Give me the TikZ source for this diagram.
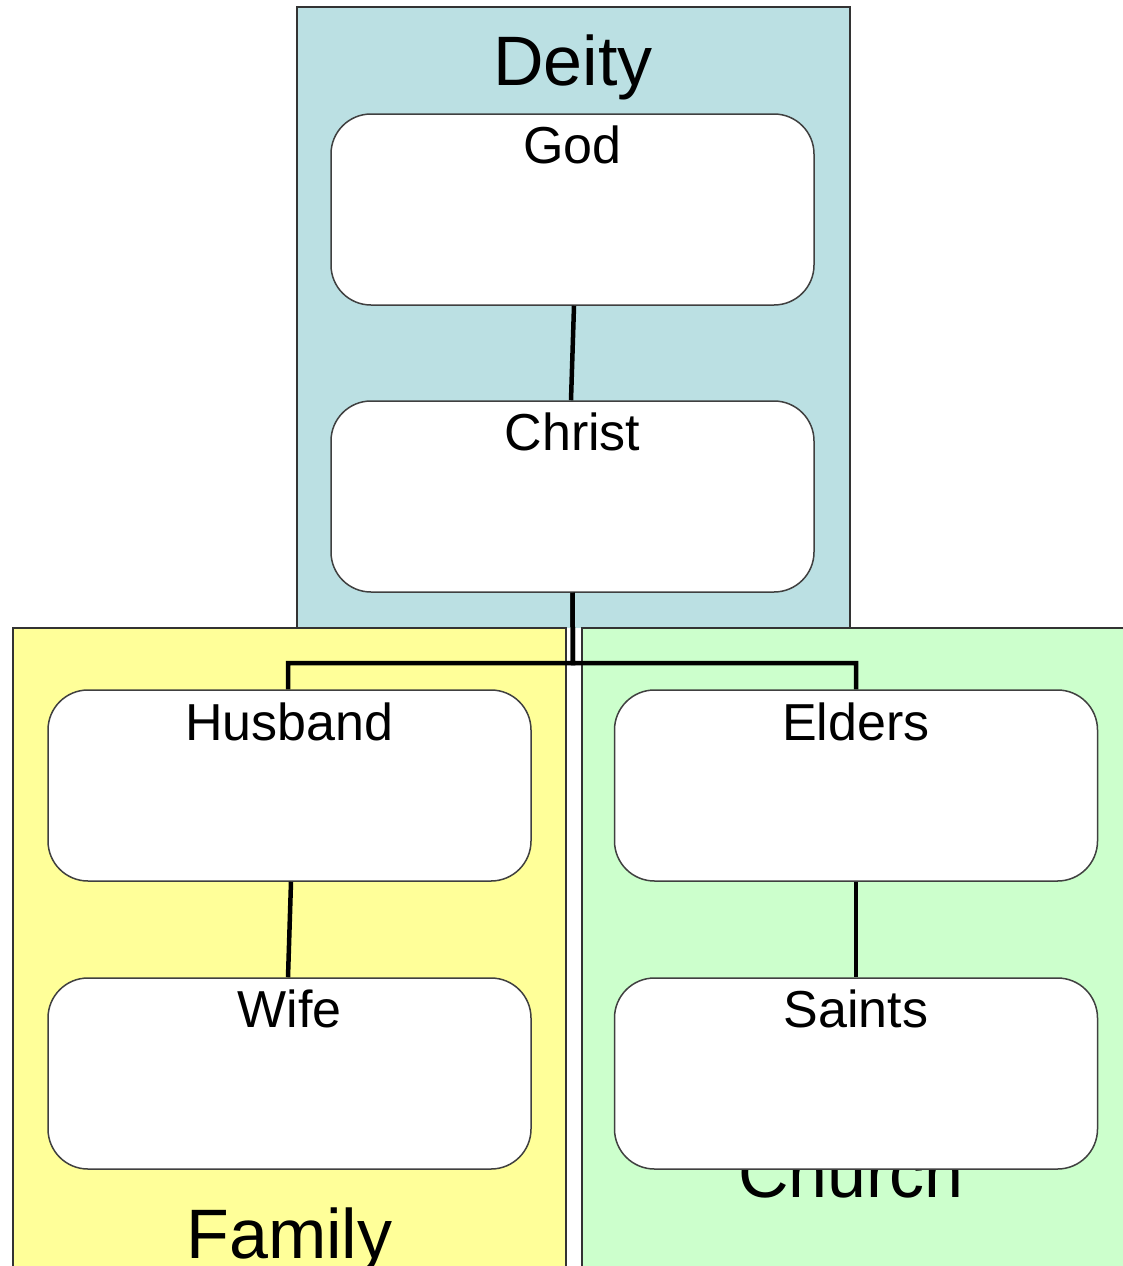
\documentclass[tikz,border=0pt]{standalone}
\usepackage{fontspec}
\setmainfont{Liberation Sans}
\usepackage{tikz}
\usetikzlibrary{arrows}

\definecolor{deityblue}{HTML}{BBE0E3}
\definecolor{familyyellow}{HTML}{FFFF99}
\definecolor{churchgreen}{HTML}{CCFFCC}

\tikzset{
  area/.style={draw=black!80, line width=1.2pt},
  rolebox/.style={draw=black!75, fill=white, line width=1.5pt, rounded corners=40pt,
    minimum width=483pt, minimum height=191pt, inner sep=0pt},
  rolename/.style={anchor=base, font=\fontsize{52}{60}\selectfont},
  areaname/.style={anchor=base, font=\fontsize{70}{80}\selectfont},
  link/.style={line width=4.5pt}
}

\begin{document}
\begin{tikzpicture}[x=1pt,y=-1pt]
    \useasboundingbox (0,0) rectangle (1122,1266);
    \fill[white] (0,0) rectangle (1122,1266);

    % the three areas
    \draw[area, fill=deityblue] (297,628) -- (297,7) -- (850,7) -- (850,628);
    \draw[area, fill=familyyellow] (13,628) rectangle (566,1290);
    \draw[area, fill=churchgreen] (582,628) rectangle (1140,1290);

    \node[areaname] (deity) at (573,85) {Deity};
    \node[areaname] (family) at (289.5,1258) {Family};
    \node[areaname] (church) at (851,1197) {Church};

    \coordinate (split) at (573,663);

    % boxes
    \node[rolebox] (god) at (572.5,209.5) {};
    \node[rolebox] (christ) at (572.5,496.5) {};
    \node[rolebox] (husband) at (289.5,785.5) {};
    \node[rolebox] (wife) at (289.5,1073.5) {};
    \node[rolebox] (elders) at (856,785.5) {};
    \node[rolebox] (saints) at (856,1073.5) {};

    \draw[link] ([xshift=1.5pt]god.south) -- ([xshift=-1.5pt]christ.north);
    \draw[link] ([xshift=1.5pt]husband.south) -- ([xshift=-1.5pt]wife.north);
    \draw[link] (elders.south) -- (saints.north);
    \draw[link] (christ.south) -- (split) -| ([xshift=-1.5pt]husband.north);
    \draw[link] (christ.south) -- (split) -| (elders.north);

    \node[rolename] (godname) at (572.5,163) {God};
    \node[rolename] (christname) at (572.5,450) {Christ};
    \node[rolename] (husbandname) at (289.5,740) {Husband};
    \node[rolename] (wifename) at (289.5,1027) {Wife};
    \node[rolename] (eldersname) at (856,740) {Elders};
    \node[rolename] (saintsname) at (856,1027) {Saints};
\end{tikzpicture}
\end{document}
